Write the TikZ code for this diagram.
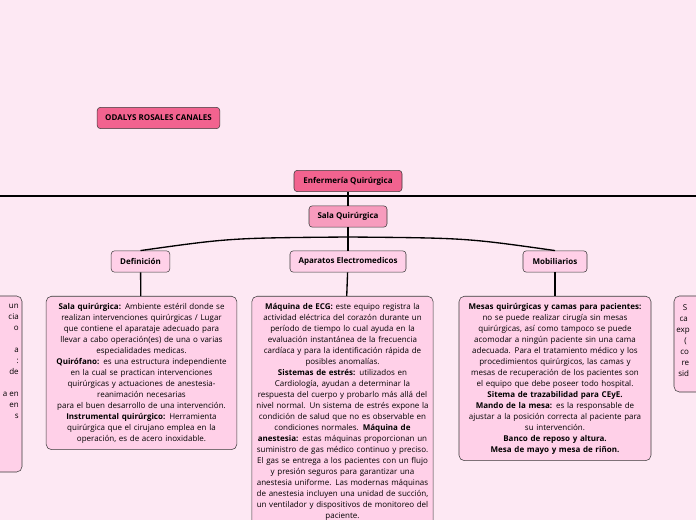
\documentclass[tikz,border=0pt]{standalone}
\usepackage{fontspec}
\setmainfont{Open Sans}
\usetikzlibrary{positioning}
\usepackage{xcolor}
\definecolor{bgpink}{HTML}{FDE8F3}
\definecolor{hotpink}{HTML}{F2638F}
\definecolor{midpink}{HTML}{F79BBD}
\definecolor{lightpink}{HTML}{FFD0E8}
\definecolor{boxline}{HTML}{3A3A3A}

\begin{document}
\begin{tikzpicture}[
  x=0.75pt, y=-0.75pt,
  font=\fontsize{6}{8.25}\selectfont,
  label/.style={draw=boxline, rounded corners=2.5pt, font=\fontsize{6}{8}\selectfont\bfseries, minimum height=16pt, inner sep=2pt},
  topic/.style={label, fill=hotpink},
  subtopic/.style={label, fill=midpink},
  branch/.style={label, fill=lightpink},
  content/.style={draw=boxline, rounded corners=4pt, fill=lightpink, align=center, inner xsep=3pt, inner ysep=5pt, anchor=north},
  link/.style={line width=1pt},
  bar/.style={line width=1.5pt}
]
\fill[bgpink] (0,0) rectangle (696,520);
\useasboundingbox (0,0) rectangle (696,520);
\clip (0,0) rectangle (696,520);

\node[topic, minimum width=92pt] (autor) at (158.5,118) {ODALYS ROSALES CANALES};
\node[topic, minimum width=81pt] (enfermeria) at (348,181) {Enfermería Quirúrgica};
\node[subtopic, minimum width=58.5pt] (sala) at (348,216.5) {Sala Quirúrgica};

\node[branch, minimum width=44pt] (definicion) at (140.5,261.5) {Definición};
\node[branch, minimum width=87pt] (aparatos) at (348,261.5) {Aparatos Electromedicos};
\node[branch, minimum width=48pt] (mobiliarios) at (555,261.5) {Mobiliarios};

\node[content, text width=137pt] (defbox) at (141.5,296) {\textbf{Sala quirúrgica:} Ambiente estéril donde se\\realizan intervenciones quirúrgicas / Lugar\\que contiene el aparataje adecuado para\\llevar a cabo operación(es) de una o varias\\especialidades medicas.\\\textbf{Quirófano:} es una estructura independiente\\en la cual se practican intervenciones\\quirúrgicas y actuaciones de anestesia-\\reanimación necesarias\\para el buen desarrollo de una intervención.\\\textbf{Instrumental quirúrgico:} Herramienta\\quirúrgica que el cirujano emplea en la\\operación, es de acero inoxidable.};
\node[content, text width=130pt] (apabox) at (342.5,296) {\textbf{Máquina de ECG:} este equipo registra la\\actividad eléctrica del corazón durante un\\período de tiempo lo cual ayuda en la\\evaluación instantánea de la frecuencia\\cardíaca y para la identificación rápida de\\posibles anomalías.\\\textbf{Sistemas de estrés:} utilizados en\\Cardiología, ayudan a determinar la\\respuesta del cuerpo y probarlo más allá del\\nivel normal. Un sistema de estrés expone la\\condición de salud que no es observable en\\condiciones normales. \textbf{Máquina de}\\\textbf{anestesia:} estas máquinas proporcionan un\\suministro de gas médico continuo y preciso.\\El gas se entrega a los pacientes con un flujo\\y presión seguros para garantizar una\\anestesia uniforme. Las modernas máquinas\\de anestesia incluyen una unidad de succión,\\un ventilador y dispositivos de monitoreo del\\paciente.};
\node[content, text width=138pt] (mobbox) at (555,296) {\textbf{Mesas quirúrgicas y camas para pacientes:}\\no se puede realizar cirugía sin mesas\\quirúrgicas, así como tampoco se puede\\acomodar a ningún paciente sin una cama\\adecuada. Para el tratamiento médico y los\\procedimientos quirúrgicos, las camas y\\mesas de recuperación de los pacientes son\\el equipo que debe poseer todo hospital.\\\textbf{Sitema de trazabilidad para CEyE.}\\\textbf{Mando de la mesa:} es la responsable de\\ajustar a la posición correcta al paciente para\\su intervención.\\\textbf{Banco de reposo y altura.}\\\textbf{Mesa de mayo y mesa de riñon.}};

% cut-off boxes at the edges
\draw[draw=boxline, fill=lightpink, rounded corners=4pt] (-80,296) rectangle (22,472);
\node[anchor=north east, align=right, inner sep=0pt] (leftfrag) at (19,304) {un\\cia\\o\\[8.25pt]a\\:\\de\\[8.25pt]a en\\en\\s};
\draw[draw=boxline, fill=lightpink, rounded corners=4pt] (674,296) rectangle (780,392);
\node[anchor=north west, align=left, inner sep=0pt] (rightfrag) at (676,304) {\hspace{5pt}S\\\hspace{2.5pt}ca\\exp\\\hspace{6pt}(\\\hspace{3pt}co\\\hspace{4pt}re\\\hspace{1.5pt}sid};

% connectors
\coordinate (barleft) at (0,196.5);
\coordinate (barright) at (696,196.5);
\coordinate (fork) at (348,237);
\draw[bar] (barleft) -- (barright);
\draw[link] (enfermeria) -- (sala);
\draw[link] (sala) -- (aparatos);
\draw[link] (fork) .. controls (230,238) .. (definicion.north);
\draw[link] (fork) .. controls (466,238) .. (mobiliarios.north);
\draw[link] (definicion) -- (defbox);
\draw[link] (aparatos) -- (apabox);
\draw[link] (mobiliarios) -- (mobbox);

\end{tikzpicture}
\end{document}
